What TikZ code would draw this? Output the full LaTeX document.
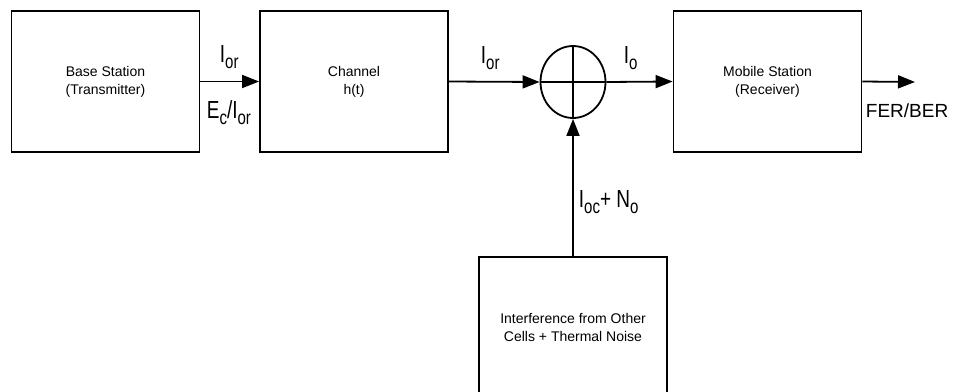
\documentclass[tikz,border=0pt]{standalone}
\usepackage{fontspec}
\setmainfont{Liberation Sans}
\usetikzlibrary{arrows.meta,shapes.geometric}
\newcommand{\lowsub}[1]{\raisebox{-5pt}{\fontsize{15}{15}\selectfont #1}}
\newcommand{\tall}[1]{\scalebox{1}[1.3]{#1}}
\tikzset{
  block/.style={draw, line width=1.8pt, minimum width=188pt, minimum height=141pt,
    align=center, font=\fontsize{14}{18}\selectfont},
  sig/.style={font=\fontsize{19}{19}\selectfont, anchor=base west, inner sep=0pt},
}
\begin{document}
\begin{tikzpicture}[x=1pt, y=-1pt, line width=1.8pt, >={Triangle[length=17pt,width=13pt]}]
  \useasboundingbox (0,0) rectangle (953,391);
  \clip (0,0) rectangle (953,391);
  % blocks
  \node[block] (bs) at (105.5,81.5) {Base Station\\(Transmitter)};
  \node[block] (ch) at (354,81.5) {Channel\\h(t)};
  \node[block] (ms) at (767.5,81.5) {Mobile Station\\(Receiver)};
  \node[block] (noise) at (573,327.5) {Interference from Other\\Cells + Thermal Noise};
  \node[draw, ellipse, line width=1.8pt, minimum width=65pt, minimum height=72pt, inner sep=0pt] (sum) at (573,82) {};
  \coordinate (out) at (915,82);
  % connectors
  \draw[->] (bs.east) -- (ch.west);
  \draw[->] (ch.east) -- (sum.west);
  \draw (sum.west) -- (sum.east);
  \draw (sum.north) -- (sum.south);
  \draw[->] (sum.east) -- (ms.west);
  \draw[->] (noise.north) -- (sum.south);
  \draw[->] (ms.east) -- (out);
  % labels
  \node[sig] (l1) at (219,62) {\tall{I\lowsub{or}}};
  \node[sig] (l2) at (206,118) {\tall{E\lowsub{c}/I\lowsub{or}}};
  \node[sig] (l3) at (480,63) {\tall{I\lowsub{or}}};
  \node[sig] (l4) at (623,63) {\tall{I\lowsub{o}}};
  \node[sig] (l5) at (578,207) {\tall{I\lowsub{oc}+ N\lowsub{o}}};
  \node[sig] (l6) at (865,117) {FER/BER};
\end{tikzpicture}
\end{document}
